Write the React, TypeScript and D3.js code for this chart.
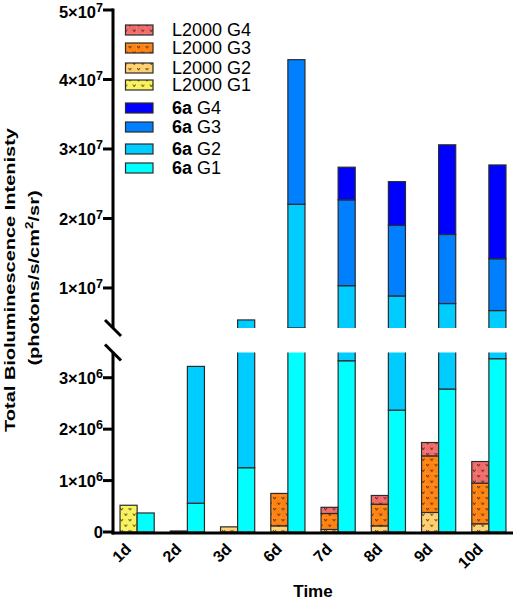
import React from "react";
import * as d3 from "d3";

// ---- data ----
const days = ["1d", "2d", "3d", "6d", "7d", "8d", "9d", "10d"];

const l2000G1 = [0.52e6, 0.02e6, 0, 0, 0, 0, 0, 0];
const l2000G2 = [0, 0, 0.1e6, 0.12e6, 0.05e6, 0.12e6, 0.38e6, 0.16e6];
const l2000G3 = [0, 0, 0, 0.63e6, 0.31e6, 0.42e6, 1.1e6, 0.79e6];
const l2000G4 = [0, 0, 0, 0, 0.12e6, 0.17e6, 0.26e6, 0.42e6];

const a6G1 = [0.37e6, 0.56e6, 1.25e6, 4.25e6, 3.33e6, 2.37e6, 2.78e6, 3.37e6];
const a6G2 = [0, 2.66e6, 4.15e6, 17.8e6, 7.0e6, 6.48e6, 4.98e6, 3.38e6];
const a6G3 = [0, 0, 0, 20.8e6, 12.35e6, 10.15e6, 9.94e6, 7.45e6];
const a6G4 = [0, 0, 0, 0, 4.7e6, 6.3e6, 12.9e6, 13.5e6];

const topTicks = [1e7, 2e7, 3e7, 4e7, 5e7];
const bottomTicks = [0, 1e6, 2e6, 3e6];

const lKeys = ["L2000 G1", "L2000 G2", "L2000 G3", "L2000 G4"];
const aKeys = ["6a G1", "6a G2", "6a G3", "6a G4"];
const lColors = ["#f8f25c", "#ffcf6e", "#ff8210", "#f26b6b"];
const aColors = ["#00ffff", "#00ccff", "#0080ff", "#0000ff"];

const legendOrder = [
  { key: "L2000 G4", idx: 3, kind: "L" },
  { key: "L2000 G3", idx: 2, kind: "L" },
  { key: "L2000 G2", idx: 1, kind: "L" },
  { key: "L2000 G1", idx: 0, kind: "L" },
  { key: "6a G4", idx: 3, kind: "A" },
  { key: "6a G3", idx: 2, kind: "A" },
  { key: "6a G2", idx: 1, kind: "A" },
  { key: "6a G1", idx: 0, kind: "A" },
];
const legendY = [30, 48, 68, 85, 108, 127, 149, 168];

const FONT = "'Liberation Sans', Arial, sans-serif";

function fmtTick(v: number) {
  if (v === 0) return { m: "0", e: "" };
  const e = Math.floor(Math.log10(v) + 1e-9);
  const m = Math.round(v / Math.pow(10, e));
  return { m: `${m}×10`, e: `${e}` };
}

export default function App() {
  const W = 513;
  const H = 600;
  const axisX = 113;
  const x = d3
    .scaleBand<string>()
    .domain(days)
    .range([113, 513])
    .paddingInner(0.32)
    .paddingOuter(0.14);
  const sub = d3.scaleBand<string>().domain(["L", "A"]).range([0, x.bandwidth()]);
  const yTop = d3.scaleLinear().domain([4.24e6, 5e7]).range([328, 10]);
  const yBot = d3.scaleLinear().domain([0, 3.5e6]).range([532, 352]);

  const rows = days.map((d, i) => ({
    day: d,
    "L2000 G1": l2000G1[i],
    "L2000 G2": l2000G2[i],
    "L2000 G3": l2000G3[i],
    "L2000 G4": l2000G4[i],
    "6a G1": a6G1[i],
    "6a G2": a6G2[i],
    "6a G3": a6G3[i],
    "6a G4": a6G4[i],
  }));
  const stackL = d3.stack<any>().keys(lKeys)(rows);
  const stackA = d3.stack<any>().keys(aKeys)(rows);

  const barRects = (scale: d3.ScaleLinear<number, number>, panel: string) => {
    const out: React.ReactNode[] = [];
    const bw = sub.bandwidth();
    const add = (series: any[], kind: "L" | "A") => {
      series.forEach((s, si) => {
        s.forEach((seg: any, di: number) => {
          const v0 = seg[0];
          const v1 = seg[1];
          if (v1 - v0 <= 0) return;
          const xx = (x(days[di]) as number) + (sub(kind) as number);
          const y1 = scale(v1);
          const y0 = scale(v0);
          out.push(
            <rect
              key={`${panel}-${kind}-${si}-${di}`}
              x={xx}
              y={y1}
              width={bw}
              height={Math.max(0.5, y0 - y1)}
              fill={kind === "L" ? `url(#pat${si})` : aColors[si]}
              stroke="#2b2b2b"
              strokeWidth={1.2}
            />
          );
        });
      });
    };
    add(stackL, "L");
    add(stackA, "A");
    return out;
  };

  return (
    <svg
      width={W}
      height={H}
      style={{ position: "absolute", left: 0, top: 0, background: "#fff" }}
      fontFamily={FONT}
    >
      <defs>
        {lColors.map((c, i) => (
          <pattern
            key={i}
            id={`pat${i}`}
            patternUnits="userSpaceOnUse"
            width={8.5}
            height={11}
          >
            <rect width={8.5} height={11} fill={c} />
            <path d="M0,0 H8.5 M0,0 V11" stroke="#ffffff" strokeOpacity={0.25} strokeWidth={0.6} />
            <path
              d="M1.2,2 L2.5,4.2 L3.8,2 M5.5,7.5 L6.8,9.7 L8.1,7.5"
              fill="none"
              stroke="#3a2a10"
              strokeWidth={0.9}
            />
          </pattern>
        ))}
        <clipPath id="clipTop">
          <rect x={0} y={0} width={W} height={328} />
        </clipPath>
        <clipPath id="clipBot">
          <rect x={0} y={352.5} width={W} height={200} />
        </clipPath>
      </defs>

      {/* bars */}
      <g clipPath="url(#clipTop)">{barRects(yTop, "top")}</g>
      <g clipPath="url(#clipBot)">{barRects(yBot, "bot")}</g>

      {/* x axis baseline */}
      <line x1={axisX - 1.5} x2={513} y1={533} y2={533} stroke="#000" strokeWidth={3} />

      {/* y axis lines */}
      <line x1={axisX} x2={axisX} y1={8.5} y2={328} stroke="#000" strokeWidth={3} />
      <line x1={axisX} x2={axisX} y1={352} y2={534.5} stroke="#000" strokeWidth={3} />
      {/* break marks */}
      <line x1={105} y1={320} x2={121} y2={336} stroke="#000" strokeWidth={3} />
      <line x1={105} y1={344.5} x2={121} y2={360.5} stroke="#000" strokeWidth={3} />

      {/* y ticks */}
      {[
        ...topTicks.map((t) => ({ t, y: yTop(t) })),
        ...bottomTicks.map((t) => ({ t, y: yBot(t) })),
      ].map(({ t, y }) => {
        const f = fmtTick(t);
        const base = Math.max(y + 6.3, 18.3);
        return (
          <g key={t}>
            <line x1={103} x2={axisX} y1={y} y2={y} stroke="#000" strokeWidth={3} />
            <text
              x={103}
              y={base}
              textAnchor="end"
              fontSize={16.5}
              fontWeight="bold"
              fill="#000"
            >
              {f.m}
              {f.e && (
                <tspan fontSize={12.5} dy={-6}>
                  {f.e}
                </tspan>
              )}
            </text>
          </g>
        );
      })}

      {/* x tick labels */}
      {days.map((d) => {
        const cx = (x(d) as number) + x.bandwidth() / 2;
        return (
          <text
            key={d}
            transform={`translate(${cx - 5},550) rotate(-45)`}
            textAnchor="end"
            fontSize={16}
            fontWeight="bold"
            fill="#000"
          >
            {d}
          </text>
        );
      })}

      {/* axis titles */}
      <text x={313} y={597} textAnchor="middle" fontSize={17} fontWeight="bold" fill="#000">
        Time
      </text>
      <g transform="translate(14.5,280) rotate(-90) scale(1.29,1)">
        <text x={0} y={0} textAnchor="middle" fontSize={15.5} fontWeight="bold" fill="#000">
          Total Bioluminescence Intenisty
        </text>
      </g>
      <g transform="translate(39,278) rotate(-90) scale(1.29,1)">
        <text x={0} y={0} textAnchor="middle" fontSize={15.5} fontWeight="bold" fill="#000">
          (photons/s/cm
          <tspan fontSize={10.5} dy={-6}>2</tspan>
          <tspan dy={6}>/sr)</tspan>
        </text>
      </g>

      {/* legend */}
      {legendOrder.map((l, i) => {
        const cy = legendY[i];
        const fill = l.kind === "L" ? `url(#pat${l.idx})` : aColors[l.idx];
        const parts = l.key.split(" ");
        return (
          <g key={l.key}>
            <rect
              x={125.5}
              y={cy - 5}
              width={27.5}
              height={10}
              fill={fill}
              stroke="#2b2b2b"
              strokeWidth={1.2}
            />
            <text x={172} y={cy + 6.4} fontSize={18} fill="#000">
              {l.kind === "A" ? (
                <>
                  <tspan fontWeight="bold">{parts[0]}</tspan> {parts[1]}
                </>
              ) : (
                l.key
              )}
            </text>
          </g>
        );
      })}
    </svg>
  );
}
